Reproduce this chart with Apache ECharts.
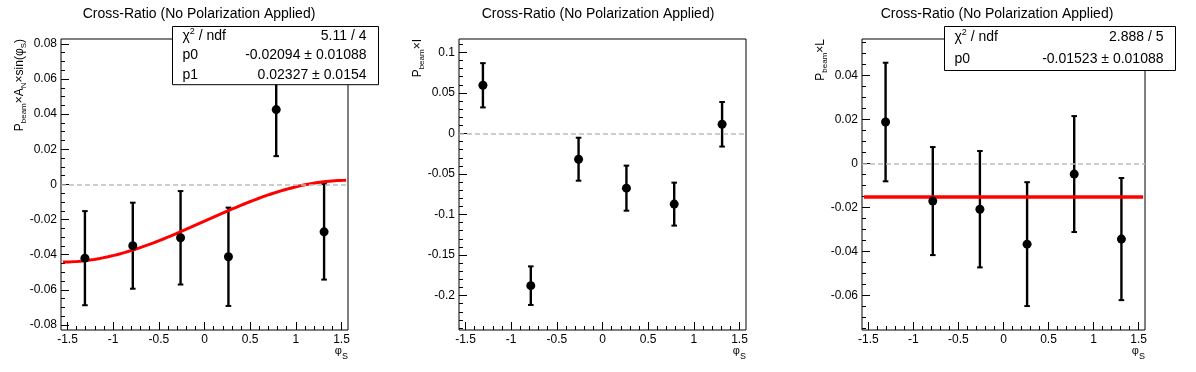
<!DOCTYPE html>
<html><head><meta charset="utf-8">
<script src="https://cdn.jsdelivr.net/npm/echarts@6/dist/echarts.min.js"></script>
<style>html,body{margin:0;padding:0;background:#fff}#c{width:1196px;height:372px}</style>
</head><body><div id="c"></div>
<script>
// ---------------- data ----------------
const phiS = [-1.309, -0.785, -0.262, 0.262, 0.785, 1.309];

const anVals = [-0.0420, -0.0349, -0.0304, -0.0412, 0.0426, -0.0270];
const anErrs = [0.0268, 0.0245, 0.0266, 0.0280, 0.0265, 0.0272];

const iVals = [0.0594, -0.1878, -0.0318, -0.0675, -0.0872, 0.0113];
const iErrs = [0.0273, 0.0238, 0.0265, 0.0278, 0.0265, 0.0275];

const lVals = [0.0189, -0.0171, -0.0208, -0.0367, -0.0048, -0.0344];
const lErrs = [0.0270, 0.0246, 0.0265, 0.0282, 0.0264, 0.0278];

const fit1P0 = -0.02094, fit1P1 = 0.02327;   // p0 + p1*sin(phi)
const fit3P0 = -0.01523;                      // p0
const fitRange = [-1.55, 1.55];

const xTickVals = [-1.5, -1, -0.5, 0, 0.5, 1, 1.5];
const y1TickVals = [-0.08, -0.06, -0.04, -0.02, 0, 0.02, 0.04, 0.06, 0.08];
const y2TickVals = [-0.2, -0.15, -0.1, -0.05, 0, 0.05, 0.1];
const y3TickVals = [-0.06, -0.04, -0.02, 0, 0.02, 0.04];

const titleText = 'Cross-Ratio (No Polarization Applied)';
const stats1 = [['{a|χ}{sup|2}{a| / ndf}', '5.11 / 4'], ['p0', '-0.02094 ± 0.01088'], ['p1', '0.02327 ± 0.0154']];
const stats3 = [['{a|χ}{sup|2}{a| / ndf}', '2.888 / 5'], ['p0', '-0.01523 ± 0.01088']];

// ---------------- layout ----------------
const FONT = '"Liberation Sans", Arial, Helvetica, sans-serif';
const XMIN = -1.5708, XMAX = 1.5708;
const panels = [
  {left: 61, top: 39, width: 287, height: 291, ymin: -0.0829, ymax: 0.0828, ticks: y1TickVals, minor: 0.005},
  {left: 459, top: 39, width: 287, height: 291, ymin: -0.2425, ymax: 0.1165, ticks: y2TickVals, minor: 0.01},
  {left: 862, top: 39, width: 283, height: 291, ymin: -0.0758, ymax: 0.0567, ticks: y3TickVals, minor: 0.005}
];

function minorVals(min, max, step, majors) {
  const out = [];
  for (let k = Math.ceil(min / step - 1e-9); k * step <= max + 1e-12; k++) {
    const v = +(k * step).toFixed(6);
    if (!majors.some(m => Math.abs(m - v) < 1e-9)) out.push(v);
  }
  return out;
}

const grids = [], xAxes = [], yAxes = [], series = [];
const labelStyle = {color: '#000', fontSize: 12, fontFamily: FONT};
const noLine = {show: false, onZero: false};

panels.forEach((p, i) => {
  grids.push({left: p.left, top: p.top, width: p.width, height: p.height, show: true,
    borderColor: '#000', borderWidth: 1, backgroundColor: 'transparent'});
  xAxes.push({gridIndex: i, type: 'value', min: XMIN, max: XMAX, position: 'bottom',
    axisLine: noLine, splitLine: {show: false},
    axisTick: {show: true, inside: true, length: 8, customValues: xTickVals, lineStyle: {color: '#000', width: 1}},
    axisLabel: {show: true, customValues: xTickVals, margin: 4, ...labelStyle}});
  xAxes.push({gridIndex: i, type: 'value', min: XMIN, max: XMAX, position: 'bottom',
    axisLine: noLine, splitLine: {show: false}, axisLabel: {show: false},
    axisTick: {show: true, inside: true, length: 4, customValues: minorVals(XMIN, XMAX, 0.1, xTickVals), lineStyle: {color: '#000', width: 1}}});
  yAxes.push({gridIndex: i, type: 'value', min: p.ymin, max: p.ymax, position: 'left',
    axisLine: noLine, splitLine: {show: false},
    axisTick: {show: true, inside: true, length: 8, customValues: p.ticks, lineStyle: {color: '#000', width: 1}},
    axisLabel: {show: true, customValues: p.ticks, margin: 4, ...labelStyle}});
  yAxes.push({gridIndex: i, type: 'value', min: p.ymin, max: p.ymax, position: 'left',
    axisLine: noLine, splitLine: {show: false}, axisLabel: {show: false},
    axisTick: {show: true, inside: true, length: 4, customValues: minorVals(p.ymin, p.ymax, p.minor, p.ticks), lineStyle: {color: '#000', width: 1}}});
});

function errRender(params, api) {
  const x = api.value(0), y = api.value(1), e = api.value(2);
  const t = api.coord([x, y + e]), b = api.coord([x, y - e]);
  const st = {stroke: '#000', lineWidth: 2.4};
  return {type: 'group', children: [
    {type: 'line', shape: {x1: t[0], y1: t[1], x2: b[0], y2: b[1]}, style: st},
    {type: 'line', shape: {x1: t[0] - 2.8, y1: t[1], x2: t[0] + 2.8, y2: t[1]}, style: {stroke: '#000', lineWidth: 2}},
    {type: 'line', shape: {x1: b[0] - 2.8, y1: b[1], x2: b[0] + 2.8, y2: b[1]}, style: {stroke: '#000', lineWidth: 2}}
  ]};
}

const datasets = [[anVals, anErrs], [iVals, iErrs], [lVals, lErrs]];
datasets.forEach(([vals, errs], i) => {
  const xi = i * 2, yi = i * 2;
  series.push({type: 'scatter', xAxisIndex: xi, yAxisIndex: yi, data: [], z: 1, silent: true,
    markLine: {silent: true, symbol: 'none', label: {show: false},
      lineStyle: {color: '#bdbdbd', type: [5, 3], width: 1.6}, data: [{yAxis: 0}], animation: false}});
  series.push({type: 'custom', xAxisIndex: xi, yAxisIndex: yi, z: 2, renderItem: errRender,
    encode: {x: 0, y: 1}, data: phiS.map((x, k) => [x, vals[k], errs[k]])});
});

// fit curves (evaluated from the fitted parameters)
const fit1Data = [];
for (let k = 0; k <= 200; k++) {
  const x = fitRange[0] + (fitRange[1] - fitRange[0]) * k / 200;
  fit1Data.push([x, fit1P0 + fit1P1 * Math.sin(x)]);
}
series.push({type: 'line', xAxisIndex: 0, yAxisIndex: 0, z: 3, data: fit1Data, showSymbol: false,
  lineStyle: {color: '#ff0000', width: 3}, silent: true});
series.push({type: 'line', xAxisIndex: 4, yAxisIndex: 4, z: 3,
  data: fitRange.map(x => [x, fit3P0]), showSymbol: false, lineStyle: {color: '#ff0000', width: 3.5}, silent: true});

datasets.forEach(([vals], i) => {
  series.push({type: 'scatter', xAxisIndex: i * 2, yAxisIndex: i * 2, z: 4, symbol: 'circle', symbolSize: 9,
    itemStyle: {color: '#000', opacity: 1}, data: phiS.map((x, k) => [x, vals[k]])});
});

// ---------------- text graphics ----------------
const graphics = [];
const padCenters = [199, 598, 997];
padCenters.forEach(cx => graphics.push({type: 'text', x: cx, y: 14, style: {text: titleText,
  fontSize: 14, fontFamily: FONT, fill: '#000', align: 'center', verticalAlign: 'middle'}}));

const richY = {
  m: {fontSize: 12, fontFamily: FONT, lineHeight: 16, fill: '#000'},
  s: {fontSize: 8, fontFamily: FONT, lineHeight: 8, verticalAlign: 'bottom', fill: '#000'}
};
const yTitles = [
  {x: 20, text: '{m|P}{s|beam}{m|×A}{s|N}{m|×sin(φ}{s|S}{m|)}'},
  {x: 418, text: '{m|P}{s|beam}{m|×I}'},
  {x: 821, text: '{m|P}{s|beam}{m|×L}'}
];
yTitles.forEach(t => graphics.push({type: 'text', x: t.x, y: 39, rotation: Math.PI / 2,
  style: {text: t.text, rich: richY, align: 'right', verticalAlign: 'middle', fontFamily: FONT}}));

const richX = {
  m: {fontSize: 11, fontFamily: FONT, lineHeight: 20, fill: '#000'},
  s: {fontSize: 9, fontFamily: FONT, lineHeight: 9, verticalAlign: 'bottom', fill: '#000'}
};
panels.forEach(p => graphics.push({type: 'text', x: p.left + p.width, y: 351,
  style: {text: '{m|φ}{s|S}', rich: richX, align: 'right', verticalAlign: 'middle'}}));

function statsBox(x, y, w, rowH, rows) {
  const h = rowH * rows.length;
  graphics.push({type: 'rect', shape: {x: x, y: y, width: w, height: h}, z: 10,
    style: {fill: '#fff', stroke: '#000', lineWidth: 1}});
  const rich = {a: {fontSize: 14, fontFamily: FONT, fill: '#000', lineHeight: 18},
    sup: {fontSize: 9, fontFamily: FONT, fill: '#000', lineHeight: 9, verticalAlign: 'top'}};
  rows.forEach((r, k) => {
    const cy = y + rowH * (k + 0.5);
    graphics.push({type: 'text', x: x + 10, y: cy, z: 11, style: {text: r[0].startsWith('{') ? r[0] : '{a|' + r[0] + '}',
      rich: rich, align: 'left', verticalAlign: 'middle'}});
    graphics.push({type: 'text', x: x + w - 12, y: cy, z: 11, style: {text: r[1], fontSize: 14, fontFamily: FONT,
      fill: '#000', align: 'right', verticalAlign: 'middle'}});
  });
}
statsBox(172.5, 26.5, 206, 19.4, stats1);
statsBox(944.5, 26.5, 231, 22, stats3);

const chart = echarts.init(document.getElementById('c'), null, {renderer: 'canvas'});
chart.setOption({
  animation: false,
  backgroundColor: '#fff',
  grid: grids, xAxis: xAxes, yAxis: yAxes, series: series, graphic: graphics
});
</script></body></html>
